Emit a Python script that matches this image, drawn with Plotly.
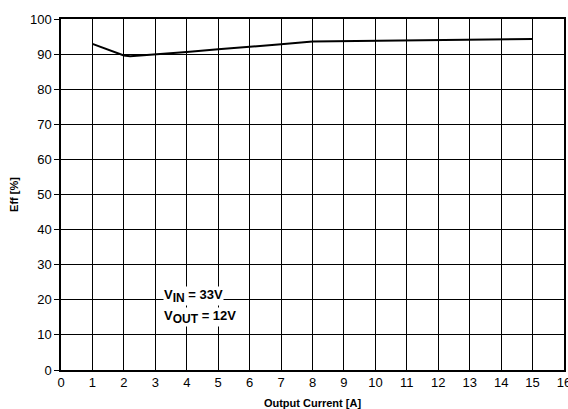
import plotly.graph_objects as go

current = [1, 2, 2.2, 3, 4, 5, 6, 7, 8, 9, 10, 11, 12, 13, 14, 15]
efficiency = [92.9, 89.6, 89.4, 89.9, 90.6, 91.4, 92.0, 92.8, 93.6, 93.7, 93.9, 94.0, 94.2, 94.2, 94.3, 94.3]

x_ticks = list(range(0, 17))
y_ticks = list(range(0, 101, 10))

font_family = "Liberation Sans, Arial, sans-serif"

fig = go.Figure()
fig.add_trace(go.Scatter(x=current, y=efficiency, mode="lines",
                         line=dict(color="black", width=2), showlegend=False))

fig.add_annotation(x=3.25, y=21.2, xref="x", yref="y", xanchor="left", yanchor="middle",
                   text="<b>V<sub><span style='font-size:12px'>IN</span></sub> = 33V</b>", showarrow=False,
                   bgcolor="white", borderpad=0,
                   font=dict(family=font_family, size=13, color="black"))
fig.add_annotation(x=3.25, y=15.1, xref="x", yref="y", xanchor="left", yanchor="middle",
                   text="<b>V<sub><span style='font-size:12px'>OUT</span></sub> = 12V</b>", showarrow=False,
                   bgcolor="white", borderpad=0,
                   font=dict(family=font_family, size=13, color="black"))

fig.update_layout(
    width=568, height=409,
    margin=dict(l=61, r=4, t=19, b=39, autoexpand=False),
    paper_bgcolor="white", plot_bgcolor="white",
    font=dict(family=font_family, size=13, color="black"),
)
fig.update_xaxes(
    range=[0, 16], tickvals=x_ticks, ticktext=[str(v) for v in x_ticks],
    showgrid=True, gridcolor="black", gridwidth=1,
    showline=True, linecolor="black", linewidth=1.5, mirror=True,
    ticks="", zeroline=False, automargin=False, ticklabeloverflow="allow",
    title=dict(text="<b>Output Current [A]</b>", font=dict(size=11), standoff=10),
)
fig.update_yaxes(
    range=[0, 100], tickvals=y_ticks, ticktext=[str(v) for v in y_ticks],
    showgrid=True, gridcolor="black", gridwidth=1,
    showline=True, linecolor="black", linewidth=1.5, mirror=True,
    ticks="outside", ticklen=5, tickcolor="black", zeroline=False, automargin=False,
    title=dict(text="<b>Eff [%]</b>", font=dict(size=11), standoff=9),
)

fig.write_html("out.html", config={"displayModeBar": False},
               post_script="document.body.style.margin='0';document.body.style.overflow='hidden';")
